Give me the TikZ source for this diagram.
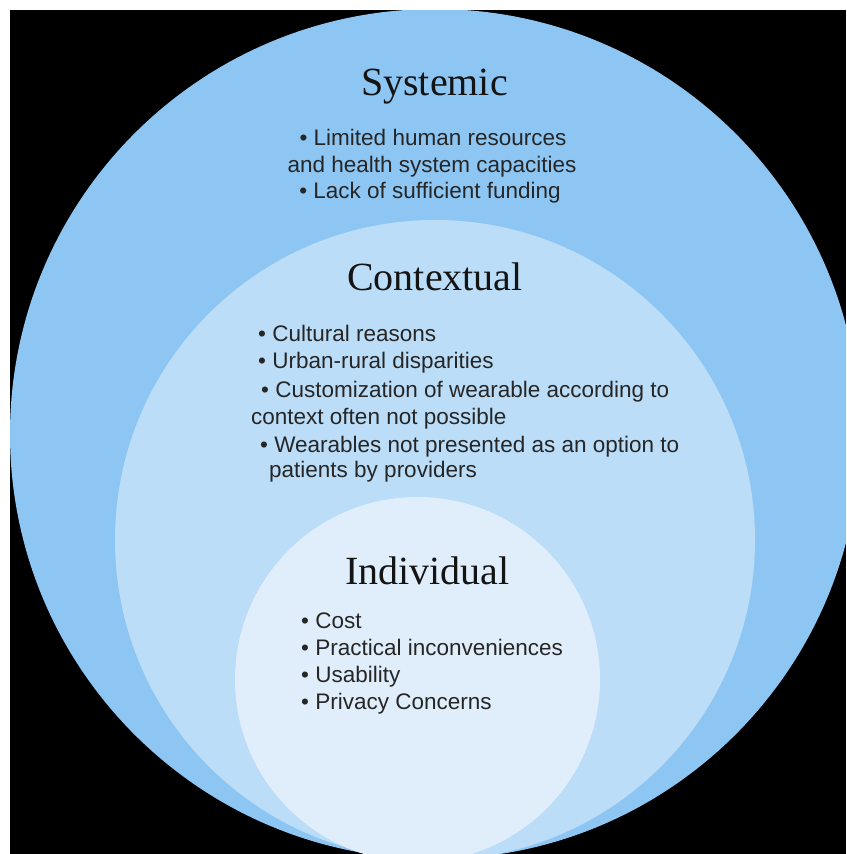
\documentclass[tikz,border=0pt]{standalone}
\usepackage{fontspec}
\setsansfont{Liberation Sans}
\newfontfamily\headfont{Liberation Serif}
\usepackage{tikz}

\definecolor{outerblue}{RGB}{142,198,243}
\definecolor{midblue}{RGB}{187,221,247}
\definecolor{innerblue}{RGB}{224,238,251}
\definecolor{bodytext}{RGB}{38,38,38}

\begin{document}
\begin{tikzpicture}[x=1pt, y=-1pt,
  heading/.style={anchor=base, inner sep=0pt, text=black!92, font=\headfont\fontsize{40}{44}\selectfont},
  item/.style={anchor=base west, inner sep=0pt, text=bodytext, font=\sffamily\fontsize{22.5}{27}\selectfont},
  citem/.style={item, anchor=base}]

\useasboundingbox (0,0) rectangle (846,854);
\fill[white] (0,0) rectangle (846,854);
\fill[black] (10,10) rectangle (846,854);

% the three nested circles
\begin{scope}
\clip (10,10) rectangle (846,854);
\fill[outerblue] (435,434) circle (425);
\fill[midblue] (435,540) circle (320);
\fill[innerblue] (417.5,679.5) circle (182.5);
\end{scope}

% systemic
\node[heading] (systemic) at (434.5,95) {Systemic};
\node[citem] (sys1) at (433,145) {• Limited human resources};
\node[citem] (sys2) at (432,172) {and health system capacities};
\node[citem] (sys3) at (430,198) {• Lack of sufficient funding};

% contextual
\node[heading] (contextual) at (435,290) {Contextual};
\node[item] (ctx1) at (258,341) {• Cultural reasons};
\node[item] (ctx2) at (258,368) {• Urban-rural disparities};
\node[item] (ctx3) at (261,397) {• Customization of wearable according to};
\node[item] (ctx4) at (251,424) {context often not possible};
\node[item] (ctx5) at (260,452) {• Wearables not presented as an option to};
\node[item] (ctx6) at (269,477) {patients by providers};

% individual
\node[heading] (individual) at (427.5,584) {Individual};
\node[item] (ind1) at (301,628) {• Cost};
\node[item] (ind2) at (301,655) {• Practical inconveniences};
\node[item] (ind3) at (301,682) {• Usability};
\node[item] (ind4) at (301,709) {• Privacy Concerns};

\end{tikzpicture}
\end{document}
